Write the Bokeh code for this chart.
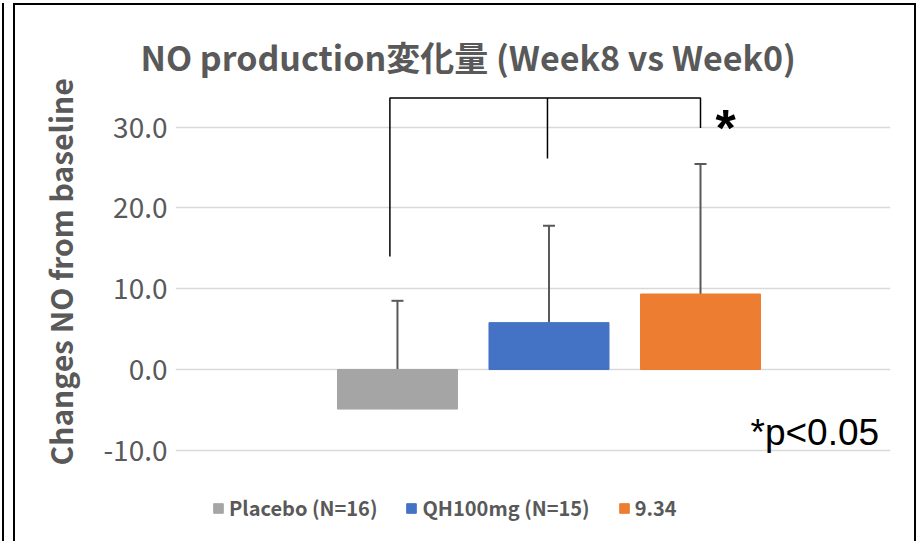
from bokeh.plotting import figure
from bokeh.models import (ColumnDataSource, Range1d, FixedTicker, NumeralTickFormatter,
                          Whisker, TeeHead, Legend, LegendItem, Title)
from bokeh.core.properties import value
from bokeh.embed import file_html
from bokeh.resources import INLINE

# ---- data ----
categories = ["Placebo (N=16)", "QH100mg (N=15)", "9.34"]
means = [-4.9, 5.8, 9.34]
sd_upper = [13.4, 12.0, 16.1]
colors = ["#A5A5A5", "#4472C4", "#ED7D31"]
y_ticks = [-10, 0, 10, 20, 30]

# significance bracket (data units)
bracket_x = [-0.05, 0.99, 2.0]
bracket_bottom = [14.0, 26.1, 29.9]
bracket_top = 33.6

title_text = "NO production変化量 (Week8 vs Week0)"
y_label = "Changes NO from baseline"
sig_mark = "*"
sig_note = "*p<0.05"

xs = list(range(len(categories)))
src = ColumnDataSource(dict(
    x=xs, top=means, color=colors, label=categories,
    upper=[m + s for m, s in zip(means, sd_upper)], lower=means,
))

GRAY = "#595959"
p = figure(width=903, height=538, output_backend="svg", toolbar_location=None,
           x_range=Range1d(-1.465, 3.254), y_range=Range1d(-19.93, 35.77),
           min_border_left=160, min_border_right=28, min_border_top=75,
           min_border_bottom=13, title=title_text)
p.styles = {"border-top": "2px solid #000", "border-left": "2px solid #000",
            "border-right": "2px solid #000", "margin-left": "13px",
            "margin-top": "3px",
            "box-shadow": "-9px 0 0 0 #fff, -11px 0 0 0 #000"}

p.title.text_font = "Noto Sans CJK JP"
p.title.text_font_style = "bold"
p.title.text_font_size = "34px"
p.title.text_color = GRAY
p.title.align = "left"
p.title.offset = -35
p.title.standoff = 0

p.outline_line_color = None
p.xaxis.visible = False
p.xgrid.visible = False
p.ygrid.grid_line_color = "#D9D9D9"
p.ygrid.grid_line_width = 1.5

ya = p.yaxis[0]
ya.ticker = FixedTicker(ticks=y_ticks)
ya.formatter = NumeralTickFormatter(format="0.0")
ya.axis_line_color = None
ya.major_tick_line_color = None
ya.minor_tick_line_color = None
ya.major_label_standoff = 2
ya.major_label_text_font = "Noto Sans CJK JP"
ya.major_label_text_font_size = "28px"
ya.major_label_text_color = GRAY

ylab = Title(text=y_label, align="left", offset=65, standoff=37,
             text_font="Noto Sans CJK JP", text_font_style="bold",
             text_font_size="30px", text_color=GRAY)
p.add_layout(ylab, "left")

bars = p.vbar(x="x", top="top", bottom=0, width=0.792, color="color", source=src)

w = Whisker(source=src, base="x", upper="upper", lower="lower",
            line_color=GRAY, line_width=2,
            upper_head=TeeHead(size=12, line_color=GRAY, line_width=2),
            lower_head=None)
p.add_layout(w)

# bracket
p.line(x=[bracket_x[0], bracket_x[0], bracket_x[2], bracket_x[2]],
       y=[bracket_bottom[0], bracket_top, bracket_top, bracket_bottom[2]],
       line_color="black", line_width=1.5)
p.segment(x0=[bracket_x[1]], y0=[bracket_bottom[1]], x1=[bracket_x[1]], y1=[bracket_top],
          line_color="black", line_width=1.5)

p.text(x=[2.099], y=[29.9], text=[sig_mark], text_font=value("Liberation Sans"),
       text_font_size="52px", text_font_style="bold", text_color="black",
       text_baseline="alphabetic", text_align="left")
p.text(x=[2.330], y=[-7.84], text=[sig_note], text_font=value("Liberation Sans"),
       text_font_size="37px", text_color="black",
       text_baseline="alphabetic", text_align="left")

items = [LegendItem(label=categories[i], renderers=[bars], index=i)
         for i in range(len(categories))]
lg = Legend(items=items, orientation="horizontal", location=(37, 8),
            padding=0, margin=0, spacing=28, glyph_width=12, glyph_height=12,
            label_height=12, label_standoff=5,
            label_text_font="Noto Sans CJK JP", label_text_font_style="bold",
            label_text_font_size="20px", label_text_color=GRAY,
            border_line_color=None, background_fill_alpha=0)
p.add_layout(lg, "center")

open("out.html", "w").write(file_html(p, INLINE))
